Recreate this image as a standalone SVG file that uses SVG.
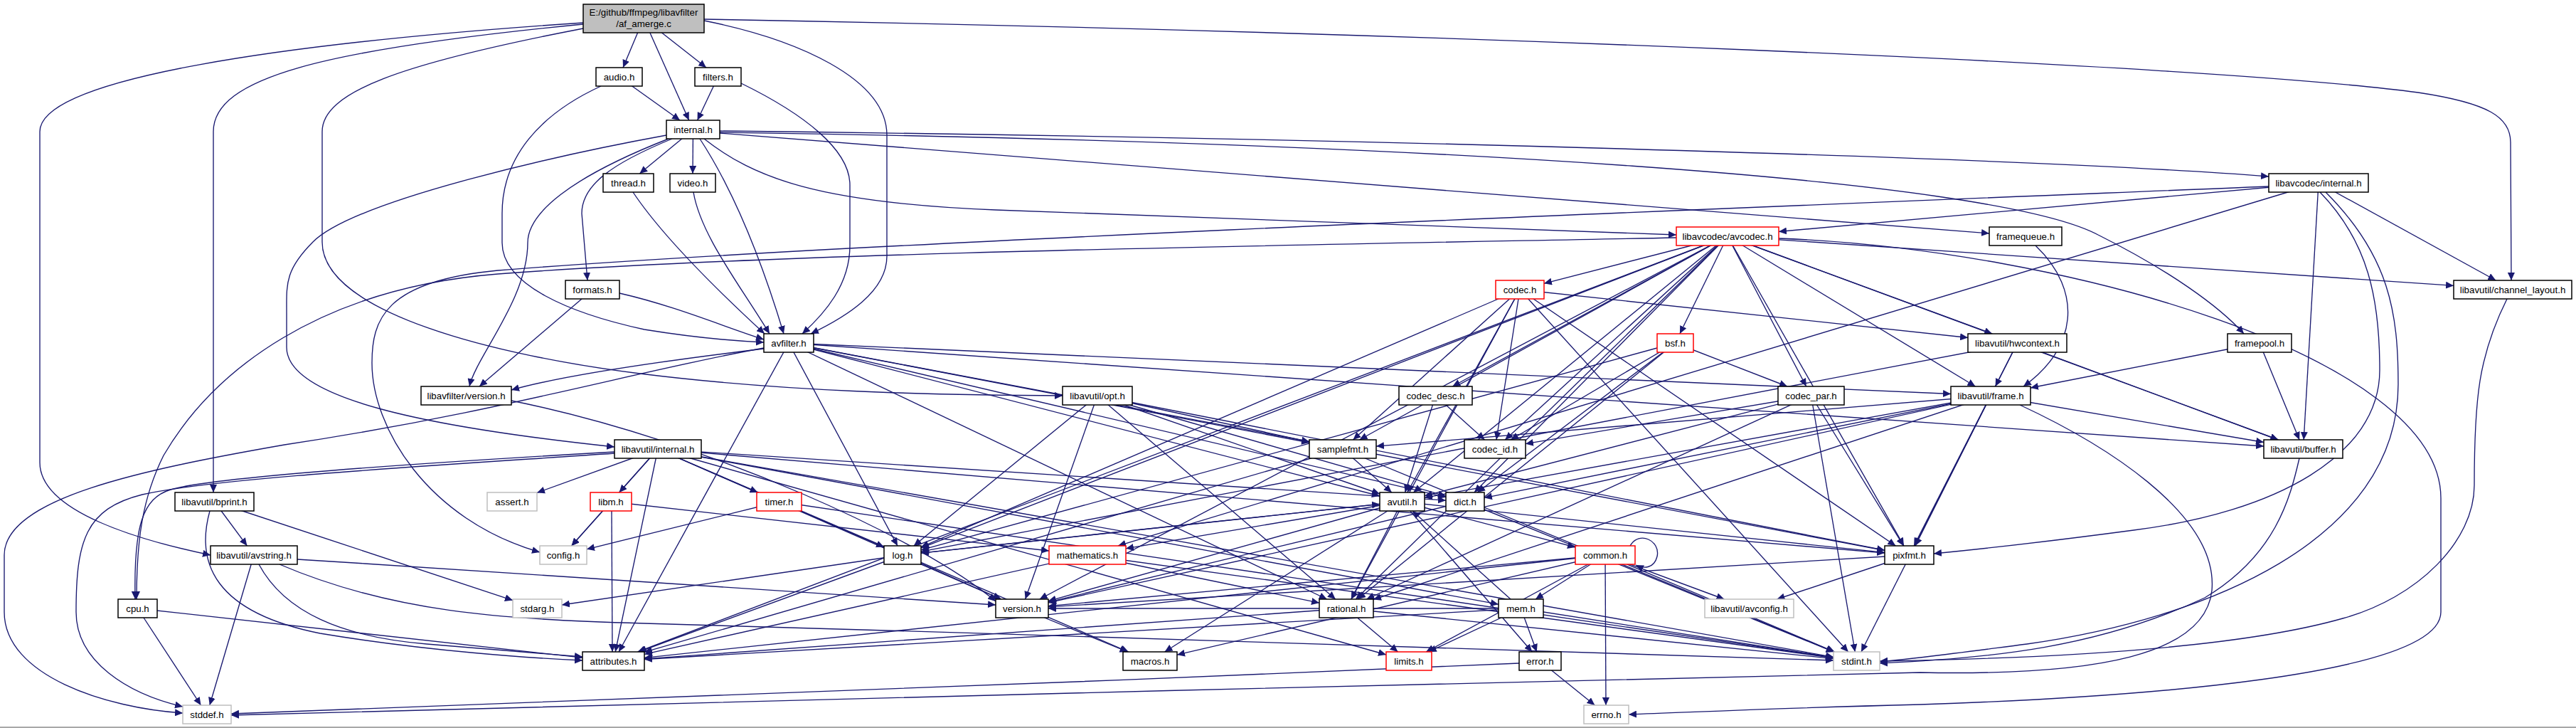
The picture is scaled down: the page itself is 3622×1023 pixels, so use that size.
<svg xmlns="http://www.w3.org/2000/svg" width="3622" height="1023" viewBox="0 0 3622 1023">
<defs>
<style>
.e{fill:none;stroke:#191970;stroke-width:1.35;marker-end:url(#a)}
.n rect{fill:#fff;stroke:#000;stroke-width:1.5}
.r rect{fill:#fff;stroke:#f00;stroke-width:1.5}
.g rect{fill:#fff;stroke:#bfbfbf;stroke-width:1.5}
.root rect{fill:#bfbfbf;stroke:#000;stroke-width:1.5}
text{font-family:"Liberation Sans",Arial,Helvetica,sans-serif;font-size:13.3px;text-anchor:middle;fill:#000}
</style>
<marker id="a" viewBox="0 0 11 10" markerWidth="11" markerHeight="10" refX="11" refY="5" orient="auto" markerUnits="userSpaceOnUse"><path d="M0,0L11,5L0,10z" fill="#191970"/></marker>
</defs>
<rect x="0" y="0" width="3622" height="1023" fill="#fff"/>
<rect x="0" y="1021" width="3622" height="2" fill="#a8a8a8"/>
<g id="edges">
<path class="e" d="M905 26L876 95"/>
<path class="e" d="M905 26L993 95"/>
<path class="e" d="M905 26L968.7 169"/>
<path class="e" d="M990 29C1120 55 1247 110 1247 190L1247 360C1247 410 1190 445 1140 469"/>
<path class="e" d="M990 27C2000 45 3100 90 3400 130C3500 145 3530 165 3530 200L3531 394"/>
<path class="e" d="M820 32C400 60 56 110 56 185L56 650C56 720 200 760 296 780"/>
<path class="e" d="M820 34C450 70 300 110 300 185L300 692"/>
<path class="e" d="M820 40C560 90 453 130 453 185L453 340C453 440 700 500 900 525C1100 550 1300 555 1494 556"/>
<path class="e" d="M870.5 108L956 169"/>
<path class="e" d="M845 121C760 160 706 220 706 300L706 341C706 400 800 440 906 463C980 475 1030 479 1074 481"/>
<path class="e" d="M1009.5 108L980.6 169"/>
<path class="e" d="M1042 117C1130 160 1195 210 1195 260L1195 345C1195 400 1160 440 1128 469"/>
<path class="e" d="M974.5 182L899.3 244"/>
<path class="e" d="M974.5 182L974 244"/>
<path class="e" d="M945 195C860 230 818 260 818 300L826 394"/>
<path class="e" d="M984 195C1020 250 1060 330 1102 469"/>
<path class="e" d="M940 195C800 250 742 300 742 341C742 420 670 500 660 543"/>
<path class="e" d="M990 195C1060 250 1150 285 1400 295C1800 312 2100 322 2357 330"/>
<path class="e" d="M1012 184C2000 195 2900 225 3190 248"/>
<path class="e" d="M1012 187C1800 245 2500 300 2797 328"/>
<path class="e" d="M1012 186C2000 200 2800 250 2950 330C3050 380 3120 430 3155 469"/>
<path class="e" d="M937 190C800 215 500 280 440 340C400 380 403 400 403 440L403 488C403 560 600 600 864 628"/>
<path class="e" d="M890 270C930 330 1000 400 1075 469"/>
<path class="e" d="M975 270C985 330 1040 400 1082 469"/>
<path class="e" d="M871 412C950 430 1020 460 1074 477"/>
<path class="e" d="M818 420L674 543"/>
<path class="e" d="M1074 490C950 505 800 525 719 548"/>
<path class="e" d="M1074 489C900 520 700 580 400 625C200 660 6 700 6 780L6 860C6 950 150 995 257 1002"/>
<path class="e" d="M1109 482L870 916"/>
<path class="e" d="M1109 482L1940 697"/>
<path class="e" d="M1109 482L3183 627"/>
<path class="e" d="M1109 482L2033 698.7"/>
<path class="e" d="M1109 482L2743 553.5"/>
<path class="e" d="M1109 482L1262 767"/>
<path class="e" d="M1109 482L1841 622"/>
<path class="e" d="M1109 482L2650 773.5"/>
<path class="e" d="M1109 482L1865.7 842"/>
<path class="e" d="M719 563C1000 620 1300 760 1400 845"/>
<path class="e" d="M925 631L1949 920"/>
<path class="e" d="M925 631L2578 923.3"/>
<path class="e" d="M864 637C600 655 300 672 200 695C120 715 107 760 107 860C107 930 180 975 257 993"/>
<path class="e" d="M925 631L755 692.4"/>
<path class="e" d="M925 631L803.6 767"/>
<path class="e" d="M925 631L865.2 916"/>
<path class="e" d="M925 631L1065.5 692"/>
<path class="e" d="M864 635C600 650 300 670 240 688C200 700 188 740 190 842"/>
<path class="e" d="M925 631L2033 703.2"/>
<path class="e" d="M925 631L1586.8 916"/>
<path class="e" d="M925 631L2107 849.2"/>
<path class="e" d="M925 631L2650 777.1"/>
<path class="e" d="M925 631L1407.3 842"/>
<path class="e" d="M925 631L870.6 692"/>
<path class="e" d="M1543 556L1877.8 842"/>
<path class="e" d="M1543 556L1940 694"/>
<path class="e" d="M1543 556L2033 697.2"/>
<path class="e" d="M1543 556L1284.9 767"/>
<path class="e" d="M1543 556L2650 773.2"/>
<path class="e" d="M1543 556L1841 620.8"/>
<path class="e" d="M1543 556L1441.6 842"/>
<path class="e" d="M2501 335C2900 350 3432 500 3432 700L3432 860C3432 950 3000 980 2700 990C2500 995 2400 1000 2290 1004"/>
<path class="e" d="M2429 332L1911.5 618"/>
<path class="e" d="M2429 332L896.6 916"/>
<path class="e" d="M2429 332L1987.4 692"/>
<path class="e" d="M2429 332L3203.3 618"/>
<path class="e" d="M2357 334C1800 345 1100 355 700 385C450 405 300 520 230 640C200 700 192 760 192 842"/>
<path class="e" d="M2429 332L3450 401.4"/>
<path class="e" d="M2429 332L2072.9 692"/>
<path class="e" d="M2429 332L2777.5 543"/>
<path class="e" d="M2429 332L2801.2 469"/>
<path class="e" d="M2429 332L1295 770"/>
<path class="e" d="M2429 332L2677 767"/>
<path class="e" d="M2429 332L1906.3 842"/>
<path class="e" d="M2429 332L2361.9 469"/>
<path class="e" d="M2429 332L2171 398.3"/>
<path class="e" d="M2429 332L2042.3 543"/>
<path class="e" d="M2429 332L2539.7 543"/>
<path class="e" d="M2429 332L2116.2 618"/>
<path class="e" d="M2429 332L1461.7 842"/>
<path class="e" d="M3260 257L2501 325.5"/>
<path class="e" d="M3260 257L3509.3 394"/>
<path class="e" d="M3260 257L3239.2 618"/>
<path class="e" d="M3262 270C3330 340 3346 420 3346 520C3346 640 3200 720 3000 745C2850 765 2780 772 2719 778"/>
<path class="e" d="M3270 270C3360 360 3372 440 3372 540C3372 760 3100 870 2850 905C2750 918 2700 925 2643 930"/>
<path class="e" d="M3260 257L1572 767"/>
<path class="e" d="M3190 262C2500 290 1200 340 700 380C540 395 523 450 523 510C523 600 600 730 759 776"/>
<path class="e" d="M2862 345C2930 410 2920 490 2845 543"/>
<path class="e" d="M3177 482L3233.1 618"/>
<path class="e" d="M3177 482L2855 545"/>
<path class="e" d="M2137 407L2598.7 916"/>
<path class="e" d="M2137 407L1978.7 692"/>
<path class="e" d="M2137 407L2767 474.5"/>
<path class="e" d="M2137 407L1295 768.8"/>
<path class="e" d="M2137 407L2665.4 767"/>
<path class="e" d="M2137 407L1900 842"/>
<path class="e" d="M2137 407L1902.5 618"/>
<path class="e" d="M2137 407L2104 618"/>
<path class="e" d="M2355.5 482L2077.2 692"/>
<path class="e" d="M2355.5 482L1295 772.9"/>
<path class="e" d="M2355.5 482L1909.1 842"/>
<path class="e" d="M2355.5 482L2124.1 618"/>
<path class="e" d="M2355.5 482L2513 543"/>
<path class="e" d="M2018.5 556L1975.6 692"/>
<path class="e" d="M2018.5 556L2087.5 618"/>
<path class="e" d="M2546.5 556L2608.3 916"/>
<path class="e" d="M2546.5 556L2003 696.8"/>
<path class="e" d="M2546.5 556L1921.4 842"/>
<path class="e" d="M2546.5 556L2676.5 767"/>
<path class="e" d="M2546.5 556L2145 623.7"/>
<path class="e" d="M1888 631L2579 916"/>
<path class="e" d="M1888 631L1956.8 692"/>
<path class="e" d="M1888 631L906 916.4"/>
<path class="e" d="M3525 420C3485 500 3479 560 3479 682C3479 760 3400 840 3294 869C3150 910 2900 925 2643 929"/>
<path class="e" d="M2836.5 482L3203.4 618"/>
<path class="e" d="M2836.5 482L2805.6 543"/>
<path class="e" d="M2836.5 482L1295 775.1"/>
<path class="e" d="M2836.5 482L2691.1 767"/>
<path class="e" d="M2840 569C2950 620 3120 720 3110 830C3100 920 2950 950 2700 945C2000 960 900 990 325 1005"/>
<path class="e" d="M2799 556L2617 916"/>
<path class="e" d="M2799 556L2003 699.3"/>
<path class="e" d="M2799 556L3183 621.5"/>
<path class="e" d="M2799 556L2087 699.6"/>
<path class="e" d="M2799 556L1931 842.5"/>
<path class="e" d="M2799 556L1935 627.1"/>
<path class="e" d="M2799 556L2693 767"/>
<path class="e" d="M2799 556L1474 846.9"/>
<path class="e" d="M3233 644C3220 700 3200 780 3100 840C2950 910 2800 925 2643 932"/>
<path class="e" d="M301.5 705L721 843.6"/>
<path class="e" d="M295 718C275 790 300 860 450 890C600 915 750 925 819 928"/>
<path class="e" d="M301.5 705L347.4 767"/>
<path class="e" d="M357 780L294.8 991"/>
<path class="e" d="M364 793C400 860 480 895 600 905C700 913 760 918 819 923"/>
<path class="e" d="M393 793C550 860 700 870 906 876C1500 893 2200 915 2578 928"/>
<path class="e" d="M418 786C800 810 1200 835 1400 850"/>
<path class="e" d="M193.5 855L282.5 991"/>
<path class="e" d="M193.5 855L819 924.2"/>
<path class="e" d="M859 705L803.6 767"/>
<path class="e" d="M860 718L861 916"/>
<path class="e" d="M859 705L1475 774"/>
<path class="e" d="M1095.5 705L825 771.8"/>
<path class="e" d="M1095.5 705L1243 768.8"/>
<path class="e" d="M1095.5 705L2578 924.2"/>
<path class="e" d="M1269 780L790 850"/>
<path class="e" d="M1269 780L1940 708.4"/>
<path class="e" d="M1269 780L898 916"/>
<path class="e" d="M1269 780L1407.9 842"/>
<path class="e" d="M1529 780L906 919.3"/>
<path class="e" d="M1529 780L1855 847.2"/>
<path class="e" d="M1529 780L2578 924.5"/>
<path class="e" d="M1437 855L1585.4 916"/>
<path class="e" d="M1971.5 705L2215 769"/>
<path class="e" d="M1971.5 705L2154.2 916"/>
<path class="e" d="M1971.5 705L1899.8 842"/>
<path class="e" d="M1971.5 705L1474 844.6"/>
<path class="e" d="M1971.5 705L1637.6 916"/>
<path class="e" d="M1971.5 705L1583 770.8"/>
<path class="e" d="M1971.5 705L1295 777.2"/>
<path class="e" d="M1971.5 705L2650 776.4"/>
<path class="e" d="M2060 705L2578.5 916"/>
<path class="e" d="M2060 705L1474 846.1"/>
<path class="e" d="M2257 780L2159 842"/>
<path class="e" d="M2257 780L2258 991"/>
<path class="e" d="M2257 780L2005.1 916"/>
<path class="e" d="M2257 780L2579.7 916"/>
<path class="e" d="M2257 780L906 924.4"/>
<path class="e" d="M2257 780L1655 920.2"/>
<path class="e" d="M2257 780L1474 851.6"/>
<path class="e" d="M2257 780L2424.4 842"/>
<path class="e" d="M2292 767C2305 745 2335 760 2330 782C2326 798 2312 800 2300 794"/>
<path class="e" d="M2684.5 780L2498.5 842"/>
<path class="e" d="M2684.5 780L1474 852.8"/>
<path class="e" d="M1893 855L1965.5 916"/>
<path class="e" d="M1893 855L2578 925.6"/>
<path class="e" d="M1893 855L906 925.9"/>
<path class="e" d="M2138.5 855L2008.7 916"/>
<path class="e" d="M2138.5 855L2578 923.9"/>
<path class="e" d="M2138.5 855L906 926.5"/>
<path class="e" d="M2138.5 855L2160.8 916"/>
<path class="e" d="M2138.5 855L1986 718"/>
<path class="e" d="M2138.5 855L1474 855"/>
<path class="e" d="M2165.5 929L2242.4 991"/>
<path class="e" d="M2136 932C1500 960 700 990 325 1003"/>
</g>
<g id="n_root" class="root"><rect x="820" y="6" width="170" height="40"/><text x="905" y="22">E:/github/ffmpeg/libavfilter</text><text x="905" y="37.5">/af_amerge.c</text></g>
<g id="n_audio" class="n"><rect x="838" y="95" width="65" height="26"/><text x="870.5" y="112.7">audio.h</text></g>
<g id="n_filters" class="n"><rect x="977" y="95" width="65" height="26"/><text x="1009.5" y="112.7">filters.h</text></g>
<g id="n_internal" class="n"><rect x="937" y="169" width="75" height="26"/><text x="974.5" y="186.7">internal.h</text></g>
<g id="n_thread" class="n"><rect x="848" y="244" width="71" height="26"/><text x="883.5" y="261.7">thread.h</text></g>
<g id="n_video" class="n"><rect x="942" y="244" width="64" height="26"/><text x="974" y="261.7">video.h</text></g>
<g id="n_avcodec" class="r"><rect x="2357" y="319" width="144" height="26"/><text x="2429" y="336.7">libavcodec/avcodec.h</text></g>
<g id="n_lavc_internal" class="n"><rect x="3190" y="244" width="140" height="26"/><text x="3260" y="261.7">libavcodec/internal.h</text></g>
<g id="n_framequeue" class="n"><rect x="2797" y="319" width="102" height="26"/><text x="2848" y="336.7">framequeue.h</text></g>
<g id="n_formats" class="n"><rect x="795" y="394" width="76" height="26"/><text x="833" y="411.7">formats.h</text></g>
<g id="n_codec" class="r"><rect x="2103" y="394" width="68" height="26"/><text x="2137" y="411.7">codec.h</text></g>
<g id="n_channel_layout" class="n"><rect x="3450" y="394" width="166" height="26"/><text x="3533" y="411.7">libavutil/channel_layout.h</text></g>
<g id="n_avfilter" class="n"><rect x="1074" y="469" width="70" height="26"/><text x="1109" y="486.7">avfilter.h</text></g>
<g id="n_bsf" class="r"><rect x="2330" y="469" width="51" height="26"/><text x="2355.5" y="486.7">bsf.h</text></g>
<g id="n_hwcontext" class="n"><rect x="2767" y="469" width="139" height="26"/><text x="2836.5" y="486.7">libavutil/hwcontext.h</text></g>
<g id="n_framepool" class="n"><rect x="3132" y="469" width="90" height="26"/><text x="3177" y="486.7">framepool.h</text></g>
<g id="n_lavfi_version" class="n"><rect x="592" y="543" width="127" height="26"/><text x="655.5" y="560.7">libavfilter/version.h</text></g>
<g id="n_opt" class="n"><rect x="1494" y="543" width="98" height="26"/><text x="1543" y="560.7">libavutil/opt.h</text></g>
<g id="n_codec_desc" class="n"><rect x="1967" y="543" width="103" height="26"/><text x="2018.5" y="560.7">codec_desc.h</text></g>
<g id="n_codec_par" class="n"><rect x="2500" y="543" width="93" height="26"/><text x="2546.5" y="560.7">codec_par.h</text></g>
<g id="n_frame" class="n"><rect x="2743" y="543" width="112" height="26"/><text x="2799" y="560.7">libavutil/frame.h</text></g>
<g id="n_lavu_internal" class="n"><rect x="864" y="618" width="122" height="26"/><text x="925" y="635.7">libavutil/internal.h</text></g>
<g id="n_samplefmt" class="n"><rect x="1841" y="618" width="94" height="26"/><text x="1888" y="635.7">samplefmt.h</text></g>
<g id="n_codec_id" class="n"><rect x="2059" y="618" width="86" height="26"/><text x="2102" y="635.7">codec_id.h</text></g>
<g id="n_buffer" class="n"><rect x="3183" y="618" width="111" height="26"/><text x="3238.5" y="635.7">libavutil/buffer.h</text></g>
<g id="n_bprint" class="n"><rect x="246" y="692" width="111" height="26"/><text x="301.5" y="709.7">libavutil/bprint.h</text></g>
<g id="n_assert" class="g"><rect x="685" y="692" width="70" height="26"/><text x="720" y="709.7">assert.h</text></g>
<g id="n_libm" class="r"><rect x="830" y="692" width="58" height="26"/><text x="859" y="709.7">libm.h</text></g>
<g id="n_timer" class="r"><rect x="1064" y="692" width="63" height="26"/><text x="1095.5" y="709.7">timer.h</text></g>
<g id="n_avutil" class="n"><rect x="1940" y="692" width="63" height="26"/><text x="1971.5" y="709.7">avutil.h</text></g>
<g id="n_dict" class="n"><rect x="2033" y="692" width="54" height="26"/><text x="2060" y="709.7">dict.h</text></g>
<g id="n_avstring" class="n"><rect x="296" y="767" width="122" height="26"/><text x="357" y="784.7">libavutil/avstring.h</text></g>
<g id="n_config" class="g"><rect x="759" y="767" width="66" height="26"/><text x="792" y="784.7">config.h</text></g>
<g id="n_log" class="n"><rect x="1243" y="767" width="52" height="26"/><text x="1269" y="784.7">log.h</text></g>
<g id="n_mathematics" class="r"><rect x="1475" y="767" width="108" height="26"/><text x="1529" y="784.7">mathematics.h</text></g>
<g id="n_common" class="r"><rect x="2215" y="767" width="84" height="26"/><text x="2257" y="784.7">common.h</text></g>
<g id="n_pixfmt" class="n"><rect x="2650" y="767" width="69" height="26"/><text x="2684.5" y="784.7">pixfmt.h</text></g>
<g id="n_cpu" class="n"><rect x="166" y="842" width="55" height="26"/><text x="193.5" y="859.7">cpu.h</text></g>
<g id="n_stdarg" class="g"><rect x="721" y="842" width="69" height="26"/><text x="755.5" y="859.7">stdarg.h</text></g>
<g id="n_version" class="n"><rect x="1400" y="842" width="74" height="26"/><text x="1437" y="859.7">version.h</text></g>
<g id="n_rational" class="n"><rect x="1855" y="842" width="76" height="26"/><text x="1893" y="859.7">rational.h</text></g>
<g id="n_mem" class="n"><rect x="2107" y="842" width="63" height="26"/><text x="2138.5" y="859.7">mem.h</text></g>
<g id="n_avconfig" class="g"><rect x="2397" y="842" width="125" height="26"/><text x="2459.5" y="859.7">libavutil/avconfig.h</text></g>
<g id="n_attributes" class="n"><rect x="819" y="916" width="87" height="26"/><text x="862.5" y="933.7">attributes.h</text></g>
<g id="n_macros" class="n"><rect x="1579" y="916" width="76" height="26"/><text x="1617" y="933.7">macros.h</text></g>
<g id="n_limits" class="r"><rect x="1949" y="916" width="64" height="26"/><text x="1981" y="933.7">limits.h</text></g>
<g id="n_error" class="n"><rect x="2136" y="916" width="59" height="26"/><text x="2165.5" y="933.7">error.h</text></g>
<g id="n_stdint" class="g"><rect x="2578" y="916" width="65" height="26"/><text x="2610.5" y="933.7">stdint.h</text></g>
<g id="n_stddef" class="g"><rect x="257" y="991" width="68" height="26"/><text x="291" y="1008.7">stddef.h</text></g>
<g id="n_errno" class="g"><rect x="2227" y="991" width="63" height="26"/><text x="2258.5" y="1008.7">errno.h</text></g>
</svg>
